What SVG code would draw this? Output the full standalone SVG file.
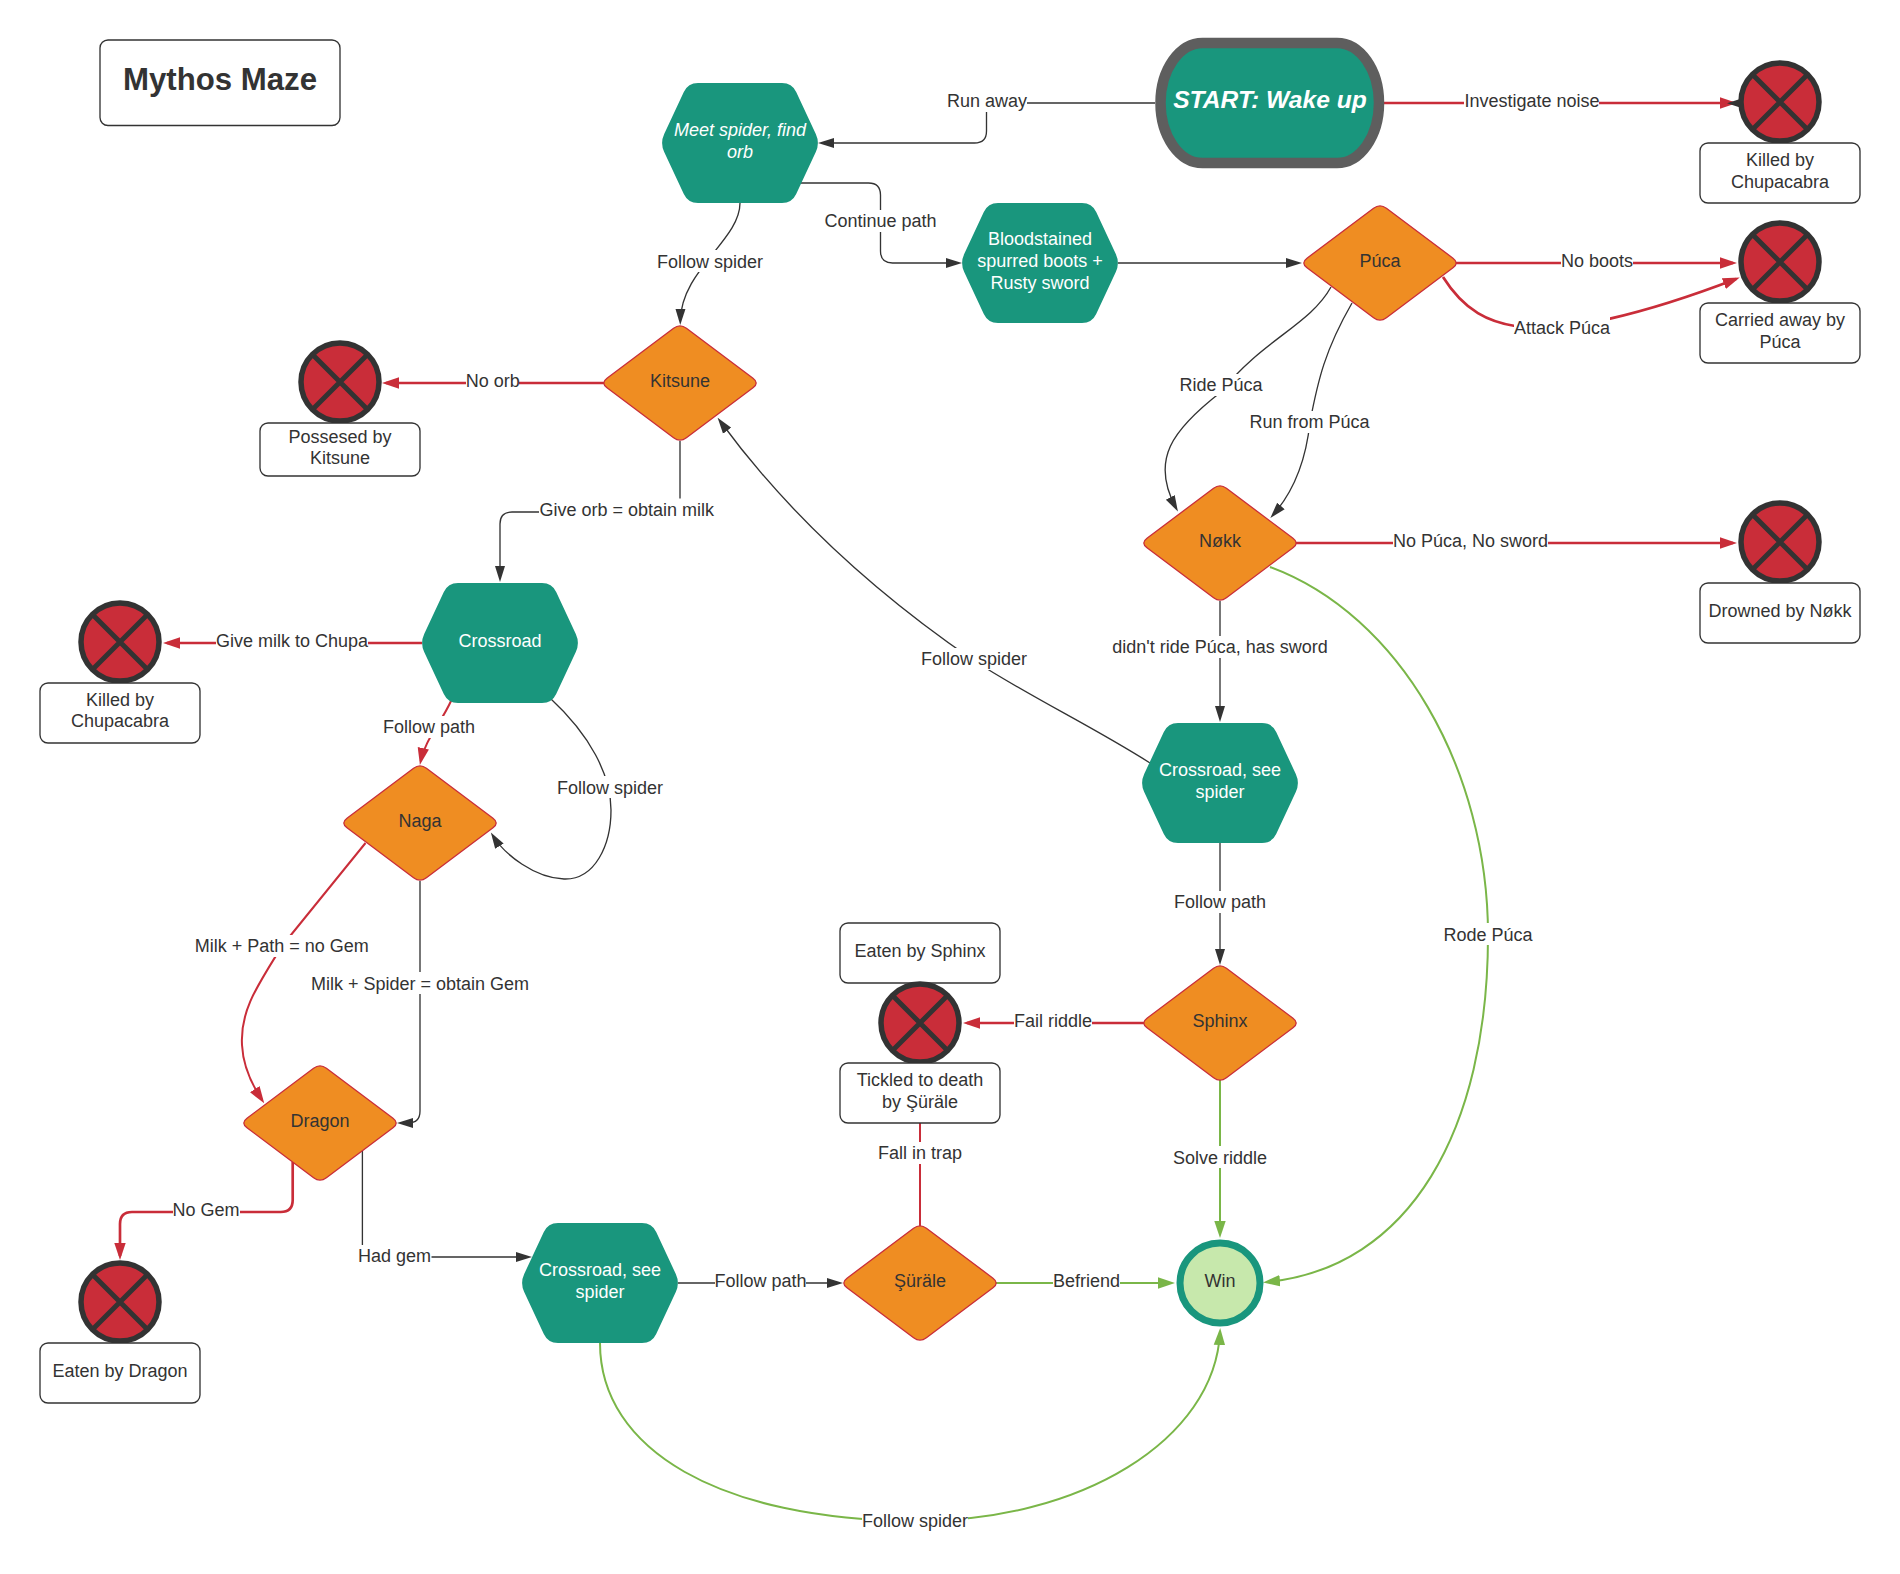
<svg xmlns="http://www.w3.org/2000/svg" width="1900" height="1574" viewBox="0 0 1900 1574">
<style>
text{font-family:"Liberation Sans",Arial,sans-serif;font-size:18px;fill:#333;text-anchor:middle}
.w{fill:#fff}
.hex{fill:#19967d}
.dia{fill:#ef8d22;stroke:#c92d39;stroke-width:1.3}
.box{fill:#fff;stroke:#333;stroke-width:1.33}
.c{fill:none;stroke-linejoin:round}
.k{stroke:#333;stroke-width:1.33;marker-end:url(#ak)}
.r{stroke:#c92d39;stroke-width:2.67;marker-end:url(#ar)}
.r2{stroke:#c92d39;stroke-width:2;marker-end:url(#ar)}
.g{stroke:#7ab648;stroke-width:2;marker-end:url(#ag)}
.lb{fill:#fff}
</style>
<defs>
<marker id="ak" markerUnits="userSpaceOnUse" markerWidth="17" markerHeight="12" refX="12" refY="6" orient="auto"><path d="M0 1L16 6L0 11Z" fill="#333"/></marker>
<marker id="ar" markerUnits="userSpaceOnUse" markerWidth="17" markerHeight="12" refX="13" refY="6" orient="auto"><path d="M0 .3L17 6L0 11.7Z" fill="#c92d39"/></marker>
<marker id="ag" markerUnits="userSpaceOnUse" markerWidth="17" markerHeight="12" refX="13" refY="6" orient="auto"><path d="M0 .3L17 6L0 11.7Z" fill="#7ab648"/></marker>
<path id="dsh" class="dia" d="M-6.4 -54.7Q0 -59.5 6.4 -54.7L73 -4.8Q79.4 0 73 4.8L6.4 54.7Q0 59.5 -6.4 54.7L-73 4.8Q-79.4 0 -73 -4.8Z"/>
<path id="hsh" class="hex" d="M-42 -60H42Q52 -60 56.2 -51L75.8 -9Q80 0 75.8 9L56.2 51Q52 60 42 60H-42Q-52 60 -56.2 51L-75.8 9Q-80 0 -75.8 -9L-56.2 -51Q-52 -60 -42 -60Z"/>
<g id="xsh"><circle r="39" fill="#c92d39" stroke="#333" stroke-width="5.5"/><path d="M-28 -28L28 28M28 -28L-28 28" stroke="#333" stroke-width="5"/></g>
</defs>

<g id="connectors">
<path class="c k" d="M1155 103H986.5V131Q986.5 143 974.5 143H822"/><rect class="lb" x="947" y="90" width="80" height="22"/><text x="987" y="107">Run away</text>
<path class="c r" d="M1384 103H1733"/><rect class="lb" x="1464" y="90" width="135" height="22"/><text x="1532" y="107">Investigate noise</text>
<path class="c k" d="M799 183H868.5Q880.5 183 880.5 195V251Q880.5 263 892.5 263H958"/><rect class="lb" x="825" y="210" width="111" height="22"/><text x="880.5" y="227">Continue path</text>
<path class="c k" d="M740 203C740 240 681 270 680.3 321"/><rect class="lb" x="657" y="250" width="106" height="22"/><text x="710" y="267.5">Follow spider</text>
<path class="c k" d="M1118 263H1298"/>
<path class="c r" d="M1456 263H1733"/><rect class="lb" x="1561" y="250" width="72" height="22"/><text x="1597" y="267">No boots</text>
<path class="c r" d="M1443 277C1465 312 1490 322 1515 326C1560 336 1650 312 1736 279"/><rect class="lb" x="1514" y="317" width="96" height="22"/><text x="1562" y="334">Attack Púca</text>
<path class="c k" d="M1331 287C1310 325 1262 340 1221 392C1172 430 1150 460 1176 508"/><rect class="lb" x="1179" y="374" width="84" height="22"/><text x="1221" y="391">Ride Púca</text>
<path class="c k" d="M1352 303C1325 350 1318 380 1310 422C1306 460 1295 490 1273 515"/><rect class="lb" x="1249" y="411" width="121" height="22"/><text x="1309.5" y="428">Run from Púca</text>
<path class="c k" d="M1150 763C1090 725 1030 697 973 660C900 610 800 530 720 421"/><rect class="lb" x="921" y="648" width="106" height="22"/><text x="974" y="665">Follow spider</text>
<path class="c r" d="M604 383H386"/><rect class="lb" x="466" y="370" width="53" height="22"/><text x="492.7" y="387">No orb</text>
<path class="c k" d="M680 441V512H512Q500 512 500 524V578"/><rect class="lb" x="539" y="498.5" width="175" height="22"/><text x="626.7" y="515.5">Give orb = obtain milk</text>
<path class="c r" d="M422 643H167"/><rect class="lb" x="216" y="630" width="152" height="22"/><text x="292" y="647">Give milk to Chupa</text>
<path class="c r2" d="M451.5 700C440 725 425 740 420.7 761"/><rect class="lb" x="383" y="716" width="92" height="22"/><text x="429" y="733">Follow path</text>
<path class="c k" d="M550 698C590 735 611 775 611 810C611 845 595 880 564 879C535 878 505 855 493 836"/><rect class="lb" x="557" y="776" width="106" height="22"/><text x="610" y="793.5">Follow spider</text>
<path class="c r2" d="M365.5 843L282 946C258 985 240 1010 242 1045C243 1065 252 1085 262 1100"/><rect class="lb" x="195" y="935" width="173" height="22"/><text x="281.8" y="952">Milk + Path = no Gem</text>
<path class="c k" d="M420 881V1111Q420 1123 408 1123H401"/><rect class="lb" x="311" y="972" width="218" height="22"/><text x="420" y="989.5">Milk + Spider = obtain Gem</text>
<path class="c r" d="M292.7 1162V1200Q292.7 1212 280.7 1212H132Q120 1212 120 1224V1256"/><rect class="lb" x="173" y="1199" width="67" height="22"/><text x="206" y="1215.5">No Gem</text>
<path class="c k" d="M362.4 1151V1257H528"/><rect class="lb" x="358.5" y="1245" width="73" height="22"/><text x="394.5" y="1262">Had gem</text>
<path class="c k" d="M678 1283H839"/><rect class="lb" x="715" y="1270" width="91" height="22"/><text x="760.6" y="1287">Follow path</text>
<path class="c" stroke="#c92d39" stroke-width="2" d="M920 1226V1123"/><rect class="lb" x="878" y="1142" width="84" height="22"/><text x="920" y="1159">Fall in trap</text>
<path class="c r" d="M1144 1023H967"/><rect class="lb" x="1014" y="1009" width="78" height="22"/><text x="1053" y="1026.5">Fail riddle</text>
<path class="c r" d="M1296 543H1733"/><rect class="lb" x="1393" y="530" width="155" height="22"/><text x="1470.6" y="547">No Púca, No sword</text>
<path class="c k" d="M1220 601V718"/><rect class="lb" x="1112" y="636" width="216" height="22"/><text x="1220" y="653">didn't ride Púca, has sword</text>
<path class="c k" d="M1220 843V961"/><rect class="lb" x="1174" y="891" width="92" height="22"/><text x="1220" y="908">Follow path</text>
<path class="c g" d="M1220 1080V1234"/><rect class="lb" x="1173" y="1146" width="94" height="22"/><text x="1220" y="1163.5">Solve riddle</text>
<path class="c g" d="M996 1283H1171"/><rect class="lb" x="1053" y="1270" width="67" height="22"/><text x="1086.4" y="1287">Befriend</text>
<path class="c g" d="M1270 567C1400 615 1488 770 1488 935C1488 1130 1410 1268 1267 1282"/><rect class="lb" x="1443" y="923" width="89" height="22"/><text x="1488" y="940.5">Rode Púca</text>
<path class="c g" d="M600 1343C600 1450 720 1520 915 1521C1080 1522 1215 1440 1220 1332"/><rect class="lb" x="862" y="1510" width="106" height="22"/><text x="915" y="1527">Follow spider</text>
</g>

<g id="title"><rect class="box" x="100" y="40" width="240" height="85.5" rx="8"/><text x="220" y="90" style="font-size:31.2px;font-weight:bold">Mythos Maze</text></g>

<g id="start"><rect x="1160.5" y="43" width="218.5" height="120" rx="42" ry="60" fill="#19967d" stroke="#5e5e5e" stroke-width="10.5"/><text class="w" x="1270" y="108" style="font-size:24.6px;font-weight:bold;font-style:italic">START: Wake up</text></g>

<g id="meet-spider"><use href="#hsh" x="740" y="143"/><text class="w" x="740" y="136" style="font-style:italic">Meet spider, find</text><text class="w" x="740" y="157.5" style="font-style:italic">orb</text></g>
<g id="boots"><use href="#hsh" x="1040" y="263"/><text class="w" x="1040" y="245">Bloodstained</text><text class="w" x="1040" y="266.5">spurred boots +</text><text class="w" x="1040" y="288.5">Rusty sword</text></g>
<g id="crossroad-1"><use href="#hsh" x="500" y="643"/><text class="w" x="500" y="647">Crossroad</text></g>
<g id="crossroad-2"><use href="#hsh" x="1220" y="783"/><text class="w" x="1220" y="776">Crossroad, see</text><text class="w" x="1220" y="797.5">spider</text></g>
<g id="crossroad-3"><use href="#hsh" x="600" y="1283"/><text class="w" x="600" y="1276">Crossroad, see</text><text class="w" x="600" y="1297.5">spider</text></g>

<g id="kitsune"><use href="#dsh" x="680" y="383"/><text x="680" y="387">Kitsune</text></g>
<g id="puca"><use href="#dsh" x="1380" y="263"/><text x="1380" y="267">Púca</text></g>
<g id="nokk"><use href="#dsh" x="1220" y="543"/><text x="1220" y="547">Nøkk</text></g>
<g id="naga"><use href="#dsh" x="420" y="823"/><text x="420" y="827">Naga</text></g>
<g id="sphinx"><use href="#dsh" x="1220" y="1023"/><text x="1220" y="1027">Sphinx</text></g>
<g id="dragon"><use href="#dsh" x="320" y="1123"/><text x="320" y="1127">Dragon</text></g>
<g id="surale"><use href="#dsh" x="920" y="1283"/><text x="920" y="1287">Şüräle</text></g>

<g id="win"><circle cx="1220" cy="1283" r="40" fill="#c7e8ac" stroke="#19967d" stroke-width="7"/><text x="1220" y="1287">Win</text></g>

<g id="end-chupa-1"><use href="#xsh" x="1780" y="102"/><path d="M1727 103.3L1740 99V107.5Z" fill="#333"/><rect class="box" x="1700" y="143" width="160" height="60" rx="8"/><text x="1780" y="166">Killed by</text><text x="1780" y="187.5">Chupacabra</text></g>
<g id="end-puca"><use href="#xsh" x="1780" y="262"/><rect class="box" x="1700" y="303" width="160" height="60" rx="8"/><text x="1780" y="326">Carried away by</text><text x="1780" y="347.5">Púca</text></g>
<g id="end-nokk"><use href="#xsh" x="1780" y="542"/><rect class="box" x="1700" y="583" width="160" height="60" rx="8"/><text x="1780" y="617">Drowned by Nøkk</text></g>
<g id="end-kitsune"><use href="#xsh" x="340" y="382"/><rect class="box" x="260" y="423" width="160" height="53" rx="8"/><text x="340" y="442.5">Possesed by</text><text x="340" y="464">Kitsune</text></g>
<g id="end-chupa-2"><use href="#xsh" x="120" y="642"/><rect class="box" x="40" y="683" width="160" height="60" rx="8"/><text x="120" y="705.5">Killed by</text><text x="120" y="727">Chupacabra</text></g>
<g id="end-dragon"><use href="#xsh" x="120" y="1302"/><rect class="box" x="40" y="1343" width="160" height="60" rx="8"/><text x="120" y="1377">Eaten by Dragon</text></g>
<g id="end-sphinx"><rect class="box" x="840" y="923" width="160" height="60" rx="8"/><text x="920" y="957">Eaten by Sphinx</text><use href="#xsh" x="920" y="1023"/><rect class="box" x="840" y="1063" width="160" height="60" rx="8"/><text x="920" y="1086">Tickled to death</text><text x="920" y="1107.5">by Şüräle</text></g>
</svg>
